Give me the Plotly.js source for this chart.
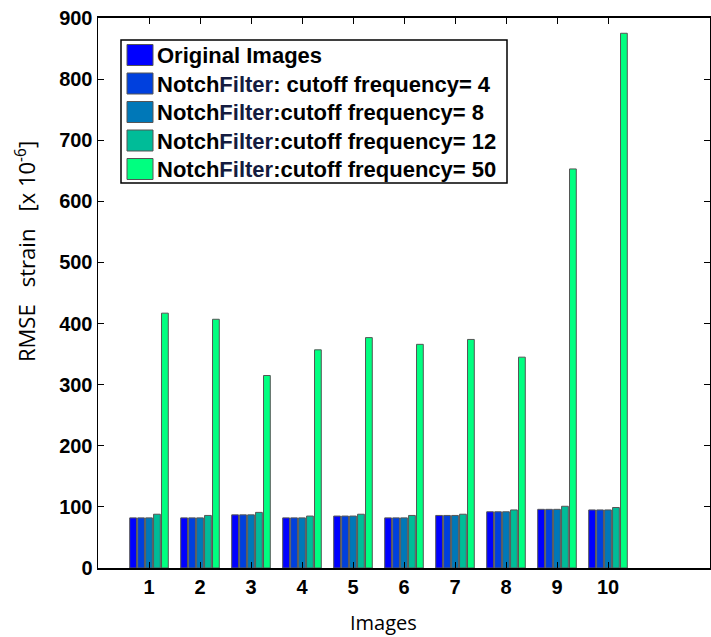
<!DOCTYPE html>
<html>
<head>
<meta charset="utf-8">
<script src="https://cdn.plot.ly/plotly-3.0.1.min.js"></script>
<style>html,body{margin:0;padding:0;background:#fff;}#chart{width:711px;height:637px;}</style>
</head>
<body>
<div id="chart"></div>
<script>
const images = [1, 2, 3, 4, 5, 6, 7, 8, 9, 10];
const seriesNames = [
  "Original Images",
  "Notch<span style='color:#141c40'>Filter</span>: cutoff frequency= 4",
  "Notch<span style='color:#141c40'>Filter</span>:cutoff frequency= 8",
  "Notch<span style='color:#141c40'>Filter</span>:cutoff frequency= 12",
  "Notch<span style='color:#141c40'>Filter</span>:cutoff frequency= 50"
];
const original = [82, 82, 87, 82, 85, 82, 86, 92, 96, 95];
const notch4   = [82, 82, 87, 82, 85, 82, 86, 92, 96, 95];
const notch8   = [82, 82, 87, 82, 85, 82, 86, 92, 96, 95];
const notch12  = [88, 86, 91, 85, 88, 86, 88, 95, 101, 99];
const notch50  = [417, 407, 315, 357, 377, 366, 374, 345, 653, 875];
const colors = ["#0000ff", "#0040de", "#0078b8", "#00bc98", "#00ff80"];
const seriesValues = [original, notch4, notch8, notch12, notch50];

const traces = seriesValues.map((vals, i) => ({
  type: "bar",
  x: images,
  y: vals,
  name: seriesNames[i],
  marker: {color: colors[i], line: {color: "#555555", width: 1}},
  showlegend: false
}));

// custom legend (large swatches like the original)
const shapes = [];
const annotations = [];
const W = 612, H = 550, L = 98, T = 18;
function px(x) { return (x - L) / W; }
function py(y) { return (T + H - y) / H; }
shapes.push({type: "rect", xref: "paper", yref: "paper",
  x0: px(121), x1: px(507), y0: py(40), y1: py(183),
  line: {color: "#000", width: 1.5}, fillcolor: "#fff", layer: "above"});
const rowY = [55.5, 84, 112.5, 141, 169.5];
seriesNames.forEach((n, i) => {
  shapes.push({type: "rect", xref: "paper", yref: "paper",
    x0: px(127), x1: px(153), y0: py(rowY[i] - 11), y1: py(rowY[i] + 10),
    fillcolor: colors[i], line: {color: "#555", width: 1}, layer: "above"});
  annotations.push({xref: "paper", yref: "paper", x: px(155), y: py(rowY[i]),
    xanchor: "left", yanchor: "middle", showarrow: false, text: "<b>" + n + "</b>",
    font: {family: "Arial, Liberation Sans", size: 22, color: "#000"}});
});
annotations.push({xref: "paper", yref: "paper", x: px(26), y: py(252),
  xanchor: "center", yanchor: "middle", showarrow: false, textangle: -90,
  text: "RMSE\u00a0\u00a0\u00a0strain\u00a0\u00a0\u00a0[x 10<sup>-6</sup>]",
  font: {family: "Open Sans, Arial", size: 22, color: "#000"}});
annotations.push({xref: "paper", yref: "paper", x: px(383), y: py(622),
  xanchor: "center", yanchor: "middle", showarrow: false,
  text: "Images", font: {family: "Open Sans, Arial", size: 20, color: "#000"}});

const layout = {
  width: 711, height: 637,
  margin: {l: L, r: 711 - L - W, t: T, b: 637 - T - H, pad: 0},
  paper_bgcolor: "#fff", plot_bgcolor: "#fff",
  barmode: "group", bargap: 0.22, bargroupgap: 0.15,
  font: {family: "Arial, Liberation Sans", color: "#000"},
  xaxis: {
    range: [0, 12], tickvals: images, ticktext: images.map(String),
    ticks: "inside", ticklen: 6, tickcolor: "#000", tickwidth: 1,
    showline: true, linecolor: "#000", linewidth: 2, mirror: "ticks",
    showgrid: false, zeroline: false,
    tickfont: {family: "Arial, Liberation Sans", size: 20, weight: "bold"}
  },
  yaxis: {
    range: [0, 900], dtick: 100,
    ticks: "inside", ticklen: 6, tickcolor: "#000", tickwidth: 1,
    showline: true, linecolor: "#000", linewidth: 1.5, mirror: "ticks",
    showgrid: false, zeroline: false,
    tickfont: {family: "Arial, Liberation Sans", size: 20, weight: "bold"}
  },
  shapes: shapes,
  annotations: annotations
};
Plotly.newPlot("chart", traces, layout, {displayModeBar: false, staticPlot: true});
</script>
</body>
</html>
